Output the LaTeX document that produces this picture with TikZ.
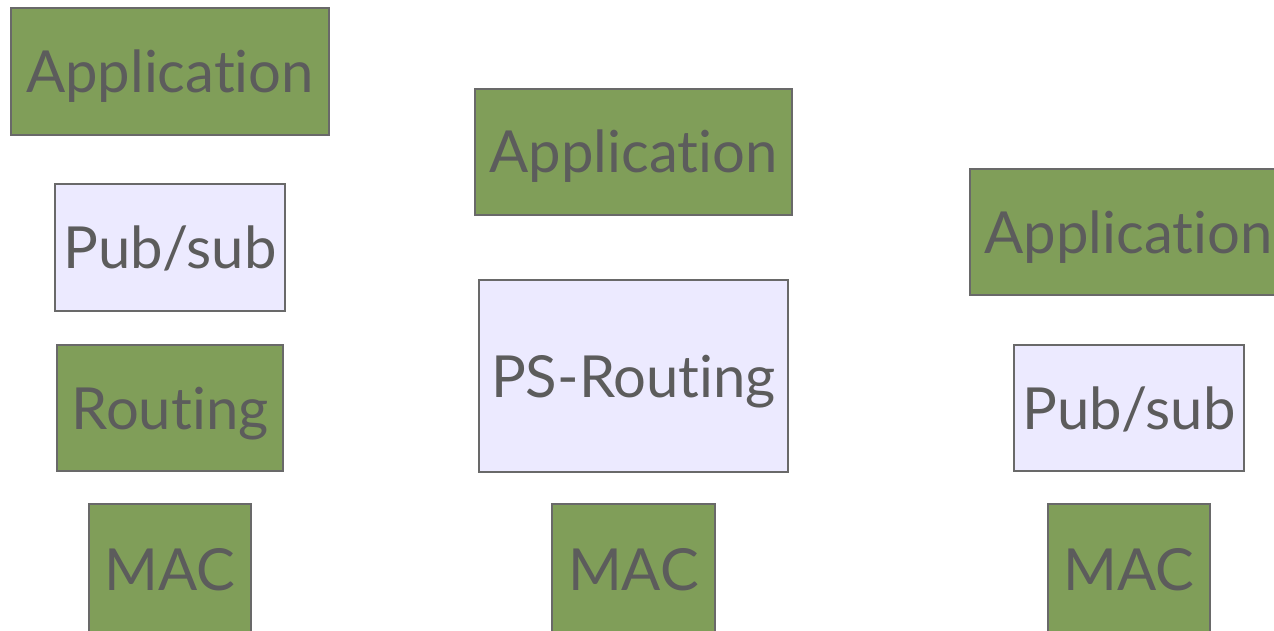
\documentclass[tikz,border=0pt]{standalone}
\usepackage{fontspec}
\setmainfont{Lato}[Ligatures={NoCommon,NoDiscretionary}]
\definecolor{boxgreen}{RGB}{128,158,89}
\definecolor{boxlav}{RGB}{236,234,255}
\definecolor{boxedge}{RGB}{105,105,105}
\definecolor{txtgrey}{RGB}{92,92,92}
\begin{document}
\begin{tikzpicture}[x=1pt,y=-1pt,
  layer/.style={draw=boxedge, line width=1.6pt, inner sep=0pt, text=txtgrey,
    font=\fontsize{58}{60}\selectfont, text height=42pt, text depth=0pt},
  greenbox/.style={layer, fill=boxgreen},
  lavbox/.style={layer, fill=boxlav}]
\useasboundingbox (0,0) rectangle (1274,631);
\begin{scope}
\clip (0,0) rectangle (1274,631);
% column 1
\node[greenbox, minimum width=318pt, minimum height=127pt] (app1) at (170,71.5) {Application};
\node[lavbox, minimum width=230pt, minimum height=127pt] (ps1) at (170,247.5) {Pub/sub};
\node[greenbox, minimum width=226pt, minimum height=126pt] (rt1) at (170,408) {Routing};
\node[greenbox, minimum width=162pt, minimum height=130pt] (mac1) at (170,569) {MAC};
% column 2
\node[greenbox, minimum width=317pt, minimum height=126pt] (app2) at (633.5,152) {Application};
\node[lavbox, minimum width=309pt, minimum height=192pt] (psr2) at (633.5,376) {PS-Routing};
\node[greenbox, minimum width=163pt, minimum height=130pt] (mac2) at (633.5,569) {MAC};
% column 3
\node[greenbox, minimum width=317pt, minimum height=126pt] (app3) at (1128.5,232) {Application};
\node[lavbox, minimum width=230pt, minimum height=126pt] (ps3) at (1129,408) {Pub/sub};
\node[greenbox, minimum width=162pt, minimum height=130pt] (mac3) at (1129,569) {MAC};
\end{scope}
\end{tikzpicture}
\end{document}
